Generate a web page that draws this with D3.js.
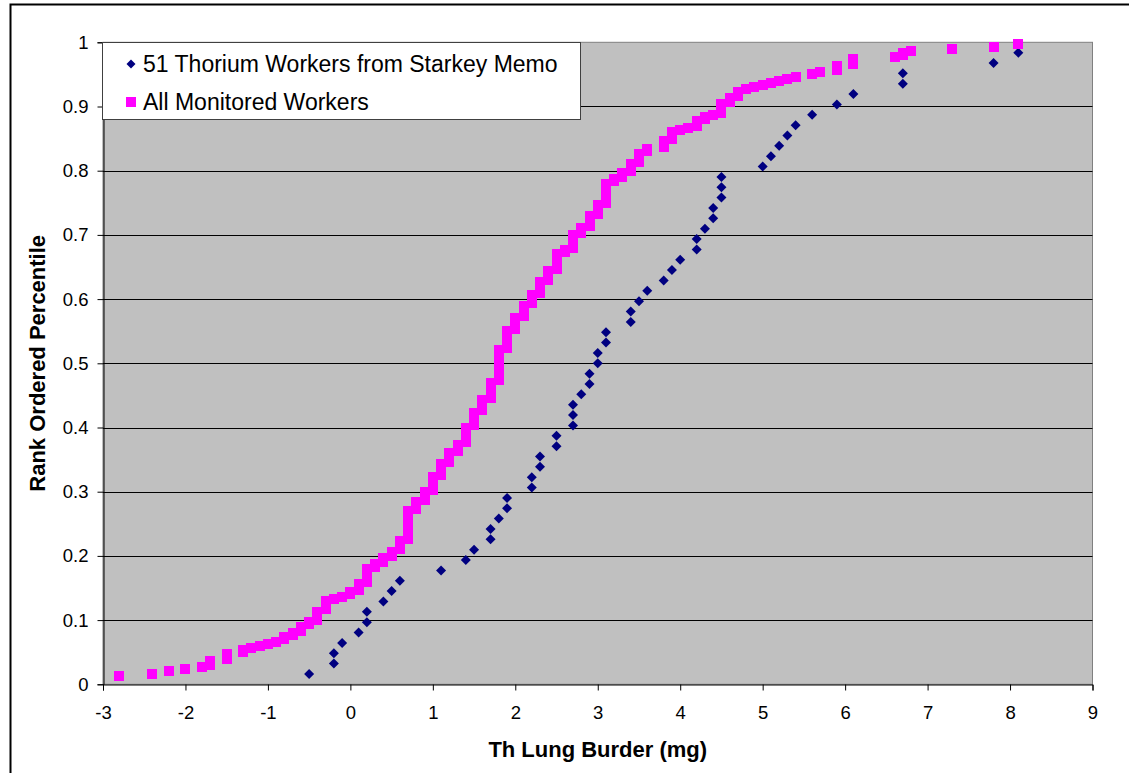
<!DOCTYPE html>
<html>
<head>
<meta charset="utf-8">
<script src="https://cdn.jsdelivr.net/npm/d3@7"></script>
<style>
  body { margin: 0; background: #fff; }
  text { font-family: Arial, "Liberation Sans", sans-serif; fill: #000; }
</style>
</head>
<body>
<div class="chart"></div>
<script>
  // 51 Thorium Workers from Starkey Memo - lung burden (mg), in rank order
  var thoriumBurden = [
    -0.5, -0.2, -0.2, -0.1, 0.1, 0.2, 0.2, 0.4, 0.5, 0.6,
    1.1, 1.4, 1.5, 1.7, 1.7, 1.8, 1.9, 1.9, 2.2, 2.2,
    2.3, 2.3, 2.5, 2.5, 2.7, 2.7, 2.7, 2.8, 2.9, 2.9,
    3.0, 3.0, 3.1, 3.1, 3.4, 3.4, 3.5, 3.6, 3.8, 3.9,
    4.0, 4.2, 4.2, 4.3, 4.4, 4.4, 4.5, 4.5, 4.5, 5.0,
    5.1, 5.2, 5.3, 5.4, 5.6, 5.9, 6.1, 6.7, 6.7, 7.8, 8.1
  ];

  // All Monitored Workers - distinct burden values (mg) and how many workers had each
  var allBurden = [
    -2.8, -2.4, -2.2, -2.0, -1.8, -1.7, -1.5, -1.3, -1.2, -1.1,
    -1.0, -0.9, -0.8, -0.7, -0.6, -0.5, -0.4, -0.3, -0.2, -0.1,
    0.0, 0.1, 0.2, 0.3, 0.4, 0.5, 0.6, 0.7, 0.8, 0.9,
    1.0, 1.1, 1.2, 1.3, 1.4, 1.5, 1.6, 1.7, 1.8, 1.9,
    2.0, 2.1, 2.2, 2.3, 2.4, 2.5, 2.6, 2.7, 2.8, 2.9,
    3.0, 3.1, 3.2, 3.3, 3.4, 3.5, 3.6, 3.8, 3.9, 4.0,
    4.1, 4.2, 4.3, 4.4, 4.5, 4.6, 4.7, 4.8, 4.9, 5.0,
    5.1, 5.2, 5.3, 5.4, 5.6, 5.7, 5.9, 6.1, 6.6, 6.7,
    6.8, 7.3, 7.8, 8.1
  ];
  var allCount = [
    1, 1, 1, 1, 1, 3, 3, 2, 1, 1,
    1, 1, 2, 2, 3, 2, 5, 5, 1, 1,
    2, 4, 7, 2, 3, 3, 5, 14, 4, 5,
    7, 6, 5, 4, 8, 7, 6, 8, 15, 9,
    6, 6, 5, 6, 5, 8, 2, 7, 3, 6,
    5, 10, 2, 3, 4, 5, 2, 4, 4, 1,
    1, 3, 2, 1, 5, 3, 3, 1, 1, 1,
    1, 1, 1, 1, 1, 1, 3, 3, 1, 2,
    1, 1, 1, 1
  ];
  // workers below the -3 mg axis minimum (ranked, but off the chart)
  var allBelowAxis = 3;

  var xTicks = [-3, -2, -1, 0, 1, 2, 3, 4, 5, 6, 7, 8, 9];
  var yTicks = [0, 0.1, 0.2, 0.3, 0.4, 0.5, 0.6, 0.7, 0.8, 0.9, 1];

  var seriesNames = ['51 Thorium Workers from Starkey Memo', 'All Monitored Workers'];

  var width = 1129;
  var height = 773;

  var svg = d3.select('.chart')
    .append('svg')
    .attr('width', width)
    .attr('height', height);

  // chart frame (runs off the right and bottom of the picture)
  svg.append('rect')
    .attr('x', 10.5).attr('y', 4.5)
    .attr('width', 1200).attr('height', 900)
    .attr('fill', 'none')
    .attr('stroke', '#000')
    .attr('stroke-width', 2);

  var x = d3.scaleLinear().domain([-3, 9]).range([103, 1092.5]);
  var y = d3.scaleLinear().domain([0, 1]).range([684.3, 42.3]);

  // plot area
  svg.append('rect')
    .attr('x', x(-3)).attr('y', y(1))
    .attr('width', x(9) - x(-3)).attr('height', y(0) - y(1))
    .attr('fill', '#c0c0c0')
    .attr('stroke', '#808080');

  // gridlines
  svg.append('g')
    .selectAll('line')
    .data(yTicks.slice(1, -1))
    .enter()
    .append('line')
    .attr('x1', x(-3)).attr('x2', x(9))
    .attr('y1', function(d) { return Math.round(y(d)) + 0.5 })
    .attr('y2', function(d) { return Math.round(y(d)) + 0.5 })
    .attr('stroke', '#000')
    .attr('stroke-width', 1);

  // axes
  var xAxis = svg.append('g')
    .attr('transform', 'translate(0,' + (Math.round(y(0)) + 0.5) + ')')
    .call(d3.axisBottom(x).tickValues(xTicks).tickSize(6).tickPadding(15)
      .tickFormat(function(d) { return String(d) }));

  var yAxis = svg.append('g')
    .attr('transform', 'translate(' + (Math.round(x(-3)) + 0.5) + ',0)')
    .call(d3.axisLeft(y).tickValues(yTicks).tickSize(6).tickPadding(9)
      .tickFormat(function(d) { return String(d) }));

  [xAxis, yAxis].forEach(function(g) {
    g.selectAll('path, line').attr('stroke', '#000');
    g.selectAll('text')
      .attr('fill', '#000')
      .style('font-size', '18.5px')
      .style('font-family', 'Arial, "Liberation Sans", sans-serif');
  });

  // axis titles
  svg.append('text')
    .attr('x', (x(-3) + x(9)) / 2)
    .attr('y', 757)
    .attr('text-anchor', 'middle')
    .style('font-size', '22px')
    .style('font-weight', 'bold')
    .text('Th Lung Burder (mg)');

  svg.append('text')
    .attr('transform', 'translate(45,' + ((y(0) + y(1)) / 2) + ') rotate(-90)')
    .attr('text-anchor', 'middle')
    .style('font-size', '22px')
    .style('font-weight', 'bold')
    .text('Rank Ordered Percentile');

  // rank ordered percentiles
  var thoriumPoints = thoriumBurden.map(function(b, i) {
    return { x: b, p: (i + 1) / (thoriumBurden.length + 1) };
  });

  var allTotal = allBelowAxis + d3.sum(allCount);
  var allPoints = [];
  var rank = allBelowAxis;
  allBurden.forEach(function(b, i) {
    for (var k = 0; k < allCount[i]; k++) {
      rank++;
      allPoints.push({ x: b, p: rank / (allTotal + 1) });
    }
  });

  var diamond = function(cx, cy, r) {
    return 'M' + cx + ',' + (cy - r) + 'L' + (cx + r) + ',' + cy +
      'L' + cx + ',' + (cy + r) + 'L' + (cx - r) + ',' + cy + 'Z';
  };

  svg.append('g')
    .selectAll('path')
    .data(thoriumPoints)
    .enter()
    .append('path')
    .attr('d', function(d) { return diamond(x(d.x), y(d.p), 5) })
    .attr('fill', '#000080');

  svg.append('g')
    .selectAll('rect')
    .data(allPoints)
    .enter()
    .append('rect')
    .attr('x', function(d) { return x(d.x) - 5 })
    .attr('y', function(d) { return y(d.p) - 5 })
    .attr('width', 10).attr('height', 10)
    .attr('fill', '#ff00ff')
    .attr('shape-rendering', 'crispEdges');

  // legend
  var legend = svg.append('g');
  legend.append('rect')
    .attr('x', 102.5).attr('y', 42.5)
    .attr('width', 478).attr('height', 77)
    .attr('fill', '#fff')
    .attr('stroke', '#404040');

  legend.append('path')
    .attr('d', diamond(131, 64, 4.5))
    .attr('fill', '#000080');
  legend.append('rect')
    .attr('x', 126).attr('y', 97)
    .attr('width', 10).attr('height', 10)
    .attr('fill', '#ff00ff')
    .attr('shape-rendering', 'crispEdges');

  legend.selectAll('text')
    .data(seriesNames)
    .enter()
    .append('text')
    .attr('x', 143)
    .attr('y', function(d, i) { return 72 + i * 38 })
    .style('font-size', '23px')
    .text(function(d) { return d });
</script>
</body>
</html>
